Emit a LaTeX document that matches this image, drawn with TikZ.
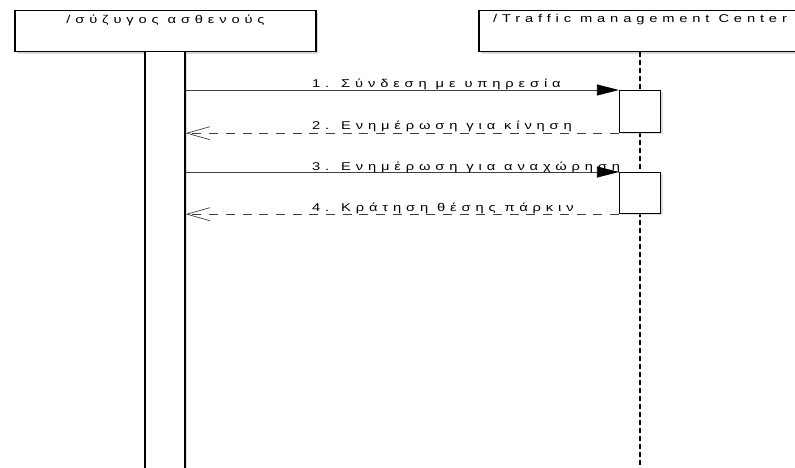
\documentclass[tikz,border=0pt]{standalone}
\usepackage{fontspec}
\setmainfont{Liberation Sans}
\newfontfamily\diagfont[FakeStretch=1.3,LetterSpace=43]{Liberation Sans}
\usetikzlibrary{arrows.meta,positioning,calc,shadows}
\tikzset{
  objbox/.style={rectangle, draw=black, line width=1.2pt, fill=white, inner sep=0pt,
                 font=\diagfont\fontsize{11.3}{13}\selectfont,
                 drop shadow={shadow xshift=2pt, shadow yshift=-2pt, fill=black!30}},
  actbox/.style={rectangle, draw=black, line width=1.2pt, fill=white, inner sep=0pt,
                 drop shadow={shadow xshift=2pt, shadow yshift=-1pt, fill=black!25}},
  msglbl/.style={inner sep=0pt, font=\diagfont\fontsize{11.3}{13}\selectfont},
  call/.style={-{Triangle[length=22pt,width=11pt,black]}, line width=0.7pt, draw=black!75},
  reply/.style={-{Straight Barb[length=23pt,width=13pt]}, line width=0.7pt, draw=black!75,
                dash pattern=on 9pt off 7.7pt},
  lifeline/.style={line width=1.5pt, dash pattern=on 5pt off 3pt},
}
\begin{document}
\begin{tikzpicture}[x=1pt, y=-1pt]
  \useasboundingbox[fill=white] (0,0) rectangle (795,468);
  % objects
  \node[objbox, minimum width=301pt, text height=13pt, text depth=28pt, anchor=north] (spouse) at (165.5,10) {/σύζυγος ασθενούς};
  \node[objbox, minimum width=322pt, text height=12pt, text depth=29pt, anchor=north] (tmc) at (640,10) {/Traffic management Center};
  % lifelines
  \coordinate (tmcend) at (640,470);
  \draw[lifeline] (tmc.south) -- (tmcend);
  \node[actbox, minimum width=40pt, minimum height=425pt, anchor=north] (pat) at (165,51) {};
  \node[actbox, minimum width=41pt, minimum height=42pt, anchor=north] (act1) at (640,90) {};
  \node[actbox, minimum width=41pt, minimum height=41pt, anchor=north] (act2) at (640,172) {};
  % messages
  \draw[call] (pat.east |- act1.north) -- (act1.north west);
  \draw[reply] (act1.south west) -- (pat.east |- act1.south);
  \draw[call] (pat.east |- act2.north) -- (act2.north west);
  \draw[reply] (act2.south west) -- (pat.east |- act2.south);
  \node[msglbl, anchor=base west] (m1) at (312,88) {1. Σύνδεση με υπηρεσία};
  \node[msglbl, anchor=base west] (m2) at (312,130) {2. Ενημέρωση για κίνηση};
  \node[msglbl, anchor=base west] (m3) at (312,170) {3. Ενημέρωση για αναχώρηση};
  \node[msglbl, anchor=base west] (m4) at (312,211) {4. Κράτηση θέσης πάρκιν};
\end{tikzpicture}
\end{document}
